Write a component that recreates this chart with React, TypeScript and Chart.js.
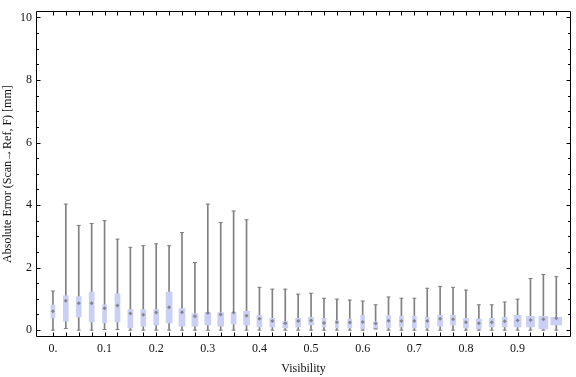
import React, { useEffect, useRef } from "react";
import { Chart, registerables } from "chart.js";

Chart.register(...registerables);

// ---------- data ----------
const visibility = [
  0, 0.025, 0.05, 0.075, 0.1, 0.125, 0.15, 0.175, 0.2, 0.225,
  0.25, 0.275, 0.3, 0.325, 0.35, 0.375, 0.4, 0.425, 0.45, 0.475,
  0.5, 0.525, 0.55, 0.575, 0.6, 0.625, 0.65, 0.675, 0.7, 0.725,
  0.75, 0.775, 0.8, 0.825, 0.85, 0.875, 0.9, 0.925, 0.95, 0.975,
];
const minVals = [
  0, 0.05, 0, 0, 0.02, 0.02, 0, 0, 0, 0,
  0, 0, 0, 0, 0, 0, 0, 0, 0, 0,
  0, 0, 0, 0, 0, 0.04, 0, 0, 0, 0,
  0, 0, 0, 0, 0, 0, 0, 0, 0, 0,
];
const q1Vals = [
  0.39, 0.29, 0.42, 0.26, 0.23, 0.26, 0.07, 0.13, 0.17, 0.23,
  0.13, 0.13, 0.17, 0.13, 0.2, 0.17, 0.1, 0.1, 0.07, 0.1,
  0.17, 0.1, 0.07, 0.07, 0.04, 0.04, 0.07, 0.1, 0.07, 0.07,
  0.13, 0.17, 0.07, 0.04, 0.1, 0.1, 0.1, 0.1, 0.04, 0.17,
];
const medianVals = [
  0.6, 0.94, 0.86, 0.86, 0.7, 0.79, 0.53, 0.49, 0.56, 0.73,
  0.57, 0.44, 0.55, 0.5, 0.56, 0.46, 0.36, 0.29, 0.22, 0.29,
  0.31, 0.23, 0.25, 0.24, 0.26, 0.21, 0.3, 0.29, 0.29, 0.29,
  0.36, 0.35, 0.25, 0.22, 0.25, 0.28, 0.31, 0.32, 0.35, 0.38,
];
const q3Vals = [
  0.81, 1.1, 1.07, 1.22, 0.81, 1.16, 0.66, 0.66, 0.66, 1.22,
  0.69, 0.53, 0.56, 0.56, 0.56, 0.6, 0.47, 0.38, 0.28, 0.38,
  0.41, 0.38, 0.31, 0.35, 0.47, 0.28, 0.47, 0.44, 0.44, 0.41,
  0.47, 0.47, 0.38, 0.35, 0.38, 0.41, 0.47, 0.44, 0.44, 0.41,
];
const maxVals = [
  1.25, 4.03, 3.35, 3.41, 3.5, 2.91, 2.65, 2.7, 2.76, 2.7,
  3.12, 2.16, 4.03, 3.44, 3.81, 3.53, 1.37, 1.31, 1.31, 1.15,
  1.18, 1.02, 0.99, 0.96, 0.93, 0.81, 1.06, 1.02, 1.02, 1.34,
  1.4, 1.37, 1.28, 0.81, 0.81, 0.9, 0.99, 1.65, 1.78, 1.71,
];
const xTickValues = [0, 0.1, 0.2, 0.3, 0.4, 0.5, 0.6, 0.7, 0.8, 0.9];
const yTickValues = [0, 2, 4, 6, 8, 10];
const yMinorTickValues = [
  0, 0.5, 1, 1.5, 2, 2.5, 3, 3.5, 4, 4.5, 5, 5.5, 6, 6.5, 7, 7.5, 8, 8.5, 9, 9.5, 10,
];

// ---------- styles ----------
const boxWidths = [
  4, 5, 5, 5, 4, 5, 5, 5, 5, 6,
  6, 6, 6, 6, 5, 6, 5, 5, 5, 5,
  5, 4, 3, 4, 4, 4, 4, 4, 4, 4,
  5, 5, 5, 5, 5, 5, 7, 8, 9, 11,
];
const BOX_COLOR = "#c9cff5";
const WHISKER_COLOR = "#808080";
const MEDIAN_COLOR = "rgba(120,120,120,0.85)";
const FONT = { family: "'Liberation Serif', 'Times New Roman', serif", size: 12 };
const TEXT_COLOR = "#111";

const framePlugin = {
  id: "frameTicks",
  afterDatasetsDraw(chart: any) {
    const { ctx, chartArea, scales } = chart;
    const { left, right, top, bottom } = chartArea;
    const xs = scales.x;
    const ys = scales.y;
    ctx.save();
    ctx.strokeStyle = "#000";
    ctx.lineWidth = 1;
    const L = Math.round(left) + 0.5;
    const R = Math.round(right) - 0.5;
    const T = Math.round(top) + 0.5;
    const B = Math.round(bottom) - 0.5;
    ctx.beginPath();
    ctx.rect(L, T, R - L, B - T);
    ctx.stroke();
    ctx.beginPath();
    visibility.forEach((v) => {
      const px = Math.round(xs.getPixelForValue(v)) + 0.5;
      ctx.moveTo(px, B);
      ctx.lineTo(px, B - 4);
      ctx.moveTo(px, T);
      ctx.lineTo(px, T + 4);
    });
    yMinorTickValues.forEach((v) => {
      const py = Math.round(ys.getPixelForValue(v)) + 0.5;
      const len = yTickValues.includes(v) ? 4 : 2.5;
      ctx.moveTo(L, py);
      ctx.lineTo(L + len, py);
      ctx.moveTo(R, py);
      ctx.lineTo(R - len, py);
    });
    ctx.stroke();
    ctx.restore();
  },
};

export default function App() {
  const canvasRef = useRef<HTMLCanvasElement>(null);

  useEffect(() => {
    const canvas = canvasRef.current;
    if (!canvas) return;

    const groups = Array.from(new Set(boxWidths));
    const boxDatasets = groups.map((w) => ({
      type: "bar" as const,
      label: "box" + w,
      data: visibility
        .map((v, i) => (boxWidths[i] === w ? { x: v, y: [q1Vals[i], q3Vals[i]] } : null))
        .filter((d) => d !== null),
      backgroundColor: BOX_COLOR,
      borderWidth: 0,
      barThickness: w,
      grouped: false,
    }));

    const chart = new Chart(canvas, {
      type: "bar",
      data: {
        datasets: [
          {
            type: "scatter",
            label: "median",
            data: visibility.map((v, i) => ({ x: v, y: medianVals[i] })),
            pointStyle: "rectRot",
            radius: 2,
            backgroundColor: MEDIAN_COLOR,
            borderColor: MEDIAN_COLOR,
            borderWidth: 0,
          } as any,
          {
            type: "scatter",
            label: "caps",
            data: [
              ...visibility.map((v, i) => ({ x: v, y: maxVals[i] })),
              ...visibility.map((v, i) => ({ x: v, y: minVals[i] })),
            ],
            pointStyle: "line",
            radius: 2,
            borderColor: WHISKER_COLOR,
            borderWidth: 1,
          } as any,
          ...boxDatasets,
          {
            type: "bar",
            label: "whisker",
            data: visibility.map((v, i) => ({ x: v, y: [minVals[i], maxVals[i]] })),
            backgroundColor: WHISKER_COLOR,
            borderWidth: 0,
            barThickness: 1,
            grouped: false,
          } as any,
        ],
      },
      options: {
        responsive: false,
        animation: false,
        events: [],
        layout: { padding: { top: 5, right: 3, left: 0, bottom: 0 } },
        plugins: {
          legend: { display: false },
          tooltip: { enabled: false },
        },
        scales: {
          x: {
            type: "linear",
            offset: false,
            min: -0.0328,
            max: 1.0035,
            grid: { display: false, drawTicks: false },
            border: { display: false },
            afterBuildTicks: (scale: any) => {
              scale.ticks = xTickValues.map((v) => ({ value: v }));
            },
            afterFit: (scale: any) => {
              scale.height = 40;
            },
            ticks: {
              autoSkip: false,
              maxRotation: 0,
              padding: 5,
              font: FONT,
              color: TEXT_COLOR,
              callback: (v: any) => (Number(v) === 0 ? "0." : Number(v).toFixed(1)),
            },
            title: {
              display: true,
              text: "Visibility",
              font: FONT,
              color: TEXT_COLOR,
              padding: { top: 0, bottom: 1 },
            },
          },
          y: {
            type: "linear",
            min: -0.22,
            max: 10.2,
            grid: { display: false, drawTicks: false },
            border: { display: false },
            afterBuildTicks: (scale: any) => {
              scale.ticks = yTickValues.map((v) => ({ value: v }));
            },
            afterFit: (scale: any) => {
              scale.width = 36;
            },
            ticks: {
              padding: 4,
              font: FONT,
              color: TEXT_COLOR,
              callback: (v: any) => String(v),
            },
            title: {
              display: true,
              text: "Absolute Error (Scan\u2192Ref, F) [mm]",
              font: FONT,
              color: TEXT_COLOR,
              padding: { top: 1, bottom: 0 },
            },
          },
        },
      } as any,
      plugins: [framePlugin],
    });

    return () => chart.destroy();
  }, []);

  return (
    <div style={{ position: "fixed", left: 0, top: 0, width: 576, height: 377, background: "#fff" }}>
      <canvas ref={canvasRef} width={576} height={377} style={{ display: "block" }} />
    </div>
  );
}
